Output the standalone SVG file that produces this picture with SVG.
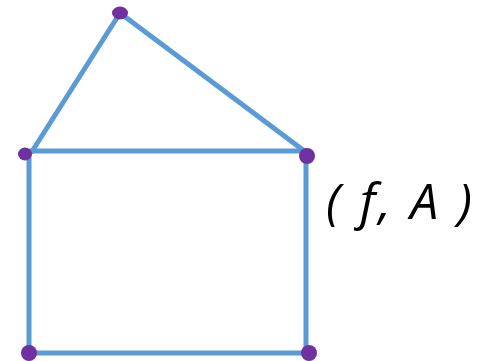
<svg xmlns="http://www.w3.org/2000/svg" width="489" height="361" viewBox="0 0 489 361">
<style>
.edge{stroke:#5B9BD5;stroke-width:5;fill:none;stroke-linecap:butt}
.dot{fill:#7030A0}
.lbl{font-family:"Open Sans","Liberation Sans",Arial,sans-serif;font-style:italic;font-size:50px;fill:#000}
</style>
<rect width="489" height="361" fill="#fff"/>
<g id="connectors">
<line class="edge" x1="120" y1="13" x2="31" y2="153"/>
<line class="edge" x1="120" y1="13" x2="307" y2="153"/>
<line class="edge" x1="29" y1="151" x2="307" y2="151"/>
<line class="edge" x1="29" y1="151" x2="29" y2="353"/>
<line class="edge" x1="306" y1="151" x2="306" y2="353"/>
<line class="edge" x1="29" y1="353" x2="309" y2="353"/>
</g>
<g id="n-top"><ellipse class="dot" cx="120" cy="13" rx="8" ry="6.5"/></g>
<g id="n-left"><ellipse class="dot" cx="25" cy="154" rx="7" ry="6.5"/></g>
<g id="n-right"><circle class="dot" cx="307" cy="156" r="8"/></g>
<g id="n-bl"><circle class="dot" cx="29" cy="353" r="8"/></g>
<g id="n-br"><circle class="dot" cx="309" cy="353" r="8"/></g>
<g id="label"><text class="lbl" x="326" y="219" textLength="146" lengthAdjust="spacing">( f, A )</text></g>
</svg>
